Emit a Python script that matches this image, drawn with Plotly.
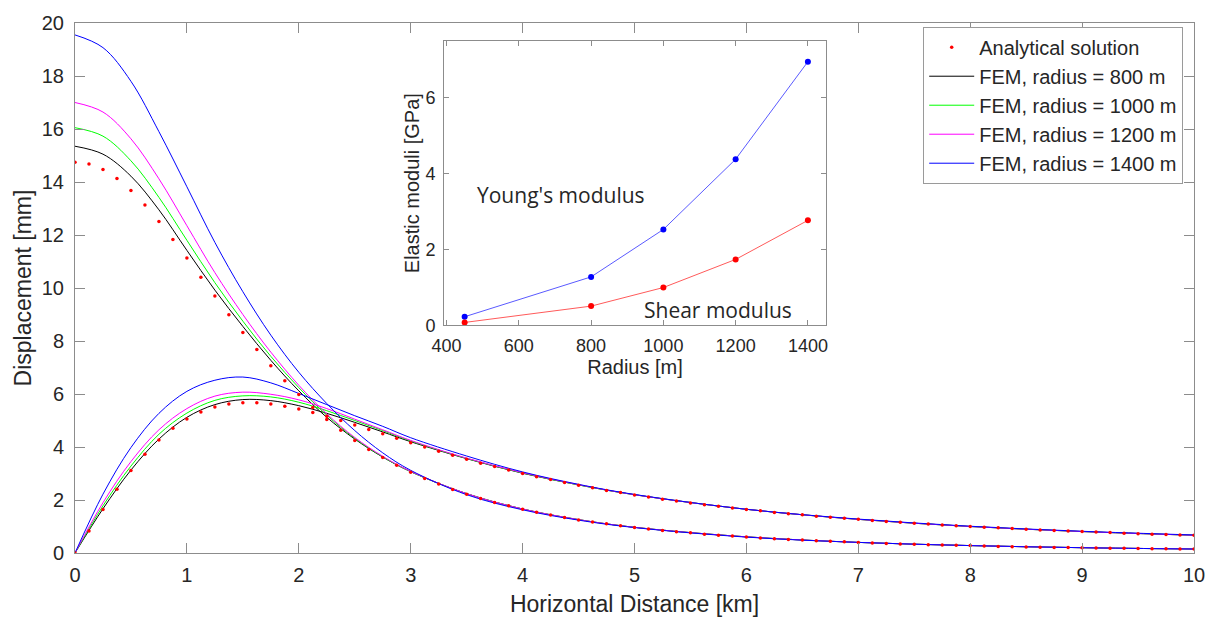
import plotly.graph_objects as go

# ---------------- data ----------------
r_analytical = [i * 0.125 for i in range(81)]
uz_analytical = [14.75, 14.68, 14.47, 14.13, 13.68, 13.13, 12.51, 11.83, 11.13, 10.41,
                 9.70, 8.99, 8.32, 7.68, 7.07, 6.50, 5.98, 5.49, 5.04, 4.63,
                 4.25, 3.91, 3.60, 3.31, 3.05, 2.81, 2.60, 2.40, 2.22, 2.06,
                 1.91, 1.78, 1.65, 1.54, 1.43, 1.34, 1.25, 1.17, 1.10, 1.03,
                 0.96, 0.91, 0.85, 0.80, 0.76, 0.71, 0.67, 0.64, 0.60, 0.57,
                 0.54, 0.51, 0.49, 0.46, 0.44, 0.42, 0.40, 0.38, 0.36, 0.34,
                 0.33, 0.31, 0.30, 0.29, 0.28, 0.26, 0.25, 0.24, 0.23, 0.22,
                 0.21, 0.21, 0.20, 0.19, 0.18, 0.18, 0.17, 0.16, 0.16, 0.15, 0.15]
ur_analytical = [0.00, 0.83, 1.64, 2.41, 3.11, 3.73, 4.26, 4.71, 5.06, 5.32,
                 5.51, 5.62, 5.67, 5.67, 5.62, 5.54, 5.43, 5.30, 5.16, 5.00,
                 4.83, 4.66, 4.50, 4.33, 4.16, 4.00, 3.84, 3.69, 3.54, 3.39,
                 3.26, 3.13, 3.00, 2.88, 2.77, 2.66, 2.56, 2.46, 2.36, 2.28,
                 2.19, 2.11, 2.03, 1.96, 1.89, 1.82, 1.76, 1.70, 1.64, 1.59,
                 1.53, 1.48, 1.44, 1.39, 1.35, 1.31, 1.27, 1.23, 1.19, 1.16,
                 1.12, 1.09, 1.06, 1.03, 1.00, 0.97, 0.95, 0.92, 0.90, 0.87,
                 0.85, 0.83, 0.81, 0.79, 0.77, 0.75, 0.73, 0.71, 0.70, 0.68, 0.67]

r_fem = [0, 0.25, 0.5, 0.75, 1.0, 1.25, 1.5, 1.75, 2.0, 2.25, 2.5, 2.75, 3.0,
         3.5, 4.0, 4.5, 5.0, 6.0, 7.0, 8.0, 9.0, 10.0]
fem_labels = ["FEM, radius = 800 m", "FEM, radius = 1000 m",
              "FEM, radius = 1200 m", "FEM, radius = 1400 m"]
uz_800 = [15.35, 15.05, 14.22, 12.95, 11.42, 9.92, 8.55, 7.27, 6.12, 5.12, 4.30, 3.62, 3.07,
          2.24, 1.66, 1.26, 0.97, 0.61, 0.40, 0.28, 0.20, 0.15]
uz_1000 = [16.05, 15.73, 14.80, 13.42, 11.80, 10.20, 8.75, 7.42, 6.24, 5.20, 4.33, 3.63, 3.07,
           2.24, 1.66, 1.26, 0.97, 0.61, 0.40, 0.28, 0.20, 0.15]
uz_1200 = [17.00, 16.64, 15.63, 14.12, 12.35, 10.58, 9.00, 7.58, 6.33, 5.25, 4.36, 3.65, 3.08,
           2.24, 1.66, 1.26, 0.97, 0.61, 0.40, 0.28, 0.20, 0.15]
uz_1400 = [19.55, 19.07, 17.80, 15.90, 13.82, 11.72, 9.86, 8.22, 6.82, 5.64, 4.62, 3.78, 3.12,
           2.20, 1.63, 1.24, 0.96, 0.60, 0.40, 0.28, 0.20, 0.15]
ur_800 = [0.00, 1.67, 3.13, 4.30, 5.12, 5.60, 5.79, 5.75, 5.56, 5.27, 4.93, 4.57, 4.20,
          3.56, 3.01, 2.57, 2.20, 1.65, 1.27, 1.00, 0.81, 0.67]
ur_1000 = [0.00, 1.78, 3.28, 4.48, 5.28, 5.76, 5.93, 5.89, 5.69, 5.37, 5.00, 4.62, 4.23,
           3.57, 3.02, 2.57, 2.20, 1.65, 1.27, 1.00, 0.81, 0.67]
ur_1200 = [0.00, 1.90, 3.45, 4.65, 5.45, 5.92, 6.07, 5.99, 5.78, 5.45, 5.05, 4.65, 4.25,
           3.58, 3.03, 2.58, 2.20, 1.65, 1.27, 1.00, 0.81, 0.67]
ur_1400 = [0.00, 2.22, 3.98, 5.27, 6.10, 6.52, 6.64, 6.42, 6.02, 5.60, 5.18, 4.78, 4.35,
           3.66, 3.06, 2.59, 2.21, 1.65, 1.28, 1.01, 0.82, 0.68]

inset_radius = [450, 800, 1000, 1200, 1400]
young_modulus = [0.23, 1.28, 2.53, 4.38, 6.95]
shear_modulus = [0.08, 0.51, 1.00, 1.74, 2.77]

# ---------------- styling ----------------
fem_colors = ["#000000", "#00ff00", "#ff00ff", "#0000ff"]
AX = "#8c8c8c"
TXT = "#262626"
FONT = "Liberation Sans, Arial, sans-serif"

fig = go.Figure()

uz_sets = [uz_800, uz_1000, uz_1200, uz_1400]
ur_sets = [ur_800, ur_1000, ur_1200, ur_1400]
for i, (lab, col) in enumerate(zip(fem_labels, fem_colors)):
    fig.add_trace(go.Scatter(x=r_fem, y=uz_sets[i], mode="lines", name=lab,
                             line=dict(color=col, width=1, shape="spline"),
                             legendgroup=lab, legendrank=10 + i))
    fig.add_trace(go.Scatter(x=r_fem, y=ur_sets[i], mode="lines", name=lab,
                             line=dict(color=col, width=1, shape="spline"),
                             legendgroup=lab, showlegend=False))

fig.add_trace(go.Scatter(x=r_analytical, y=uz_analytical, mode="markers",
                         name="Analytical solution",
                         marker=dict(color="#ff0000", size=3.5),
                         legendgroup="an", legendrank=1))
fig.add_trace(go.Scatter(x=r_analytical, y=ur_analytical, mode="markers",
                         name="Analytical solution",
                         marker=dict(color="#ff0000", size=3.5),
                         legendgroup="an", showlegend=False))

# inset
fig.add_trace(go.Scatter(x=inset_radius, y=young_modulus, mode="lines+markers",
                         line=dict(color="#5a5aff", width=1),
                         marker=dict(color="#0000ff", size=6),
                         xaxis="x2", yaxis="y2", showlegend=False))
fig.add_trace(go.Scatter(x=inset_radius, y=shear_modulus, mode="lines+markers",
                         line=dict(color="#ff5a5a", width=1),
                         marker=dict(color="#ff0000", size=6),
                         xaxis="x2", yaxis="y2", showlegend=False))

axis_common = dict(showline=True, linecolor=AX, linewidth=1, mirror="ticks",
                   ticks="inside", tickcolor=AX, showgrid=False, zeroline=False)

fig.update_layout(
    width=1217, height=624,
    margin=dict(l=75, r=18, t=19, b=71),
    paper_bgcolor="white", plot_bgcolor="white",
    font=dict(family=FONT, color=TXT),
    xaxis=dict(range=[0, 10], dtick=1, ticklen=10, tickfont=dict(size=20),
               ticklabelstandoff=4,
               title=dict(text="Horizontal Distance [km]", font=dict(size=23), standoff=10),
               **axis_common),
    yaxis=dict(range=[0, 20], dtick=2, ticklen=10, tickfont=dict(size=20),
               ticklabelstandoff=6,
               title=dict(text="Displacement [mm]", font=dict(size=23), standoff=3),
               **axis_common),
    xaxis2=dict(domain=[0.3298, 0.6711], anchor="y2", range=[393, 1450],
                tickvals=[400, 600, 800, 1000, 1200, 1400], ticklen=5,
                tickfont=dict(size=18), ticklabelstandoff=4,
                title=dict(text="Radius [m]", font=dict(size=20), standoff=3),
                **axis_common),
    yaxis2=dict(domain=[0.4293, 0.9664], anchor="x2", range=[0, 7.5],
                tickvals=[0, 2, 4, 6], ticklen=5, tickfont=dict(size=18),
                ticklabelstandoff=4,
                title=dict(text="Elastic moduli [GPa]", font=dict(size=20), standoff=0),
                **axis_common),
    legend=dict(x=0.758, y=0.993, xanchor="left", yanchor="top",
                bgcolor="white", bordercolor="#9a9a9a", borderwidth=1,
                itemwidth=45,
                font=dict(size=20, color=TXT), tracegroupgap=0),
    annotations=[
        dict(x=716, y=3.44, xref="x2", yref="y2", text="Young's modulus",
             showarrow=False, font=dict(family="Open Sans", size=21, color=TXT)),
        dict(x=1151, y=0.42, xref="x2", yref="y2", text="Shear modulus",
             showarrow=False, font=dict(family="Open Sans", size=21, color=TXT)),
    ],
)

fig.write_html("out.html")
